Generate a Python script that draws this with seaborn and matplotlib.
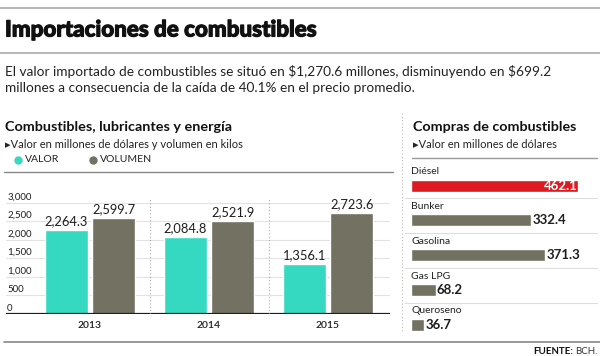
import pandas as pd
import matplotlib.pyplot as plt
import matplotlib.transforms as mtransforms
import matplotlib.patheffects as pe
from matplotlib.lines import Line2D
import seaborn as sns

# datos del grafico izquierdo
anios = ['2013', '2014', '2015']
valor = [2264.3, 2084.8, 1356.1]
volumen = [2599.7, 2521.9, 2723.6]
y_ticks = [0, 500, 1000, 1500, 2000, 2500, 3000]

# datos del grafico derecho
tipos = ['Diésel', 'Bunker', 'Gasolina', 'Gas LPG', 'Queroseno']
compras = [462.1, 332.4, 371.3, 68.2, 36.7]

TEAL = '#35d8c0'
OLIVE = '#737161'
RED = '#dc1a1f'
DARK = '#1e1e1e'

sns.set_theme(style='white')
plt.rcParams['font.family'] = ['Lato', 'DejaVu Sans']

W, H = 600, 356
fig = plt.figure(figsize=(6, 3.56), dpi=100)


def fx(x):
    return x / W


def fy(y):
    return 1 - y / H


def hline(y, x0, x1, color='#999999', lw=1.0):
    fig.add_artist(Line2D([fx(x0), fx(x1)], [fy(y), fy(y)], color=color, lw=lw,
                          transform=fig.transFigure))


# encabezado
hline(8, 0, 600, '#aaaaaa', 1.2)
fig.text(fx(5), fy(30), 'Importaciones de combustibles', fontsize=16.1,
         fontweight='black', color='#111111', va='center', ha='left',
         path_effects=[pe.withStroke(linewidth=0.8, foreground='#111111')])
hline(53, 0, 600, '#aaaaaa', 1.2)
fig.text(fx(5), fy(72), r'El valor importado de combustibles se situó en \$1,270.6 millones, '
         r'disminuyendo en \$699.2', fontsize=9.85, color='#222222', va='center')
fig.text(fx(5), fy(88), 'millones a consecuencia de la caída de 40.1% en el precio promedio.',
         fontsize=9.85, color='#222222', va='center')

# panel izquierdo: textos
fig.text(fx(5), fy(127), 'Combustibles, lubricantes y energía', fontsize=10.4,
         fontweight='bold', color='#111111', va='center')
fig.text(fx(5), fy(144), '▸Valor en millones de dólares y volumen en kilos', fontsize=8,
         color='#222222', va='center')
for x, col, lab in [(18, TEAL, 'VALOR'), (93, OLIVE, 'VOLUMEN')]:
    fig.add_artist(Line2D([fx(x)], [fy(160)], marker='o', markersize=5, color=col,
                          lw=0, transform=fig.transFigure))
    fig.text(fx(x + 7), fy(160), lab, fontsize=7.5, color='#222222', va='center')
hline(172, 4, 393, '#888888', 1.0)

# grafico de barras agrupadas
df = pd.DataFrame({
    'anio': anios * 2,
    'serie': ['Valor'] * 3 + ['Volumen'] * 3,
    'monto': valor + volumen,
})
ax = fig.add_axes([fx(6), fy(314), (390 - 6) / W, (314 - 195) / H])
sns.barplot(data=df, x='anio', y='monto', hue='serie', palette=[TEAL, OLIVE],
            width=0.8, gap=0.1, legend=False, ax=ax, saturation=1)
ax.set_xlim(-0.706, 2.521)
ax.set_ylim(0, 3216)
ax.set_yticks(y_ticks)
ax.set_yticklabels([])
ax.grid(axis='y', color='#e2e2e2', lw=0.8)
ax.set_axisbelow(True)
ax.axhline(0, color=DARK, lw=1.6)
for s in ax.spines.values():
    s.set_visible(False)
ax.set_xlabel('')
ax.set_ylabel('')
ax.tick_params(axis='x', length=0, pad=5, labelsize=7.5, labelcolor=DARK)
ax.tick_params(axis='y', length=0)
for lab in ax.get_xticklabels():
    lab.set_fontweight('semibold')
trans = mtransforms.blended_transform_factory(ax.transAxes, ax.transData)
for t in y_ticks:
    ax.text(0.003, t + 40, f'{t:,}', transform=trans, fontsize=7, color=DARK,
            va='bottom', ha='left')
for xs in [0.5, 1.5]:
    ax.plot([xs, xs], [0, 3100], color='#aaaaaa', lw=0.8, ls=(0, (1, 2)))
for cont in ax.containers:
    ax.bar_label(cont, labels=[f'{b.get_height():,.1f}' for b in cont], padding=2,
                 fontsize=9.3, color=DARK)

# panel derecho
fig.add_artist(Line2D([fx(402), fx(402)], [fy(113), fy(331)], color='#bbbbbb', lw=0.8,
                      ls=(0, (1, 2)), transform=fig.transFigure))
fig.text(fx(413), fy(127), 'Compras de combustibles', fontsize=10.3,
         fontweight='bold', color='#111111', va='center')
fig.text(fx(413), fy(144), '▸Valor en millones de dólares', fontsize=8,
         color='#222222', va='center')
hline(158, 412, 597, '#999999', 1.0)

df2 = pd.DataFrame({'tipo': tipos, 'monto': compras})
ax2 = fig.add_axes([fx(411), fy(336), (597 - 411) / W, (336 - 160) / H])
sns.barplot(data=df2, y='tipo', x='monto', hue='tipo',
            palette=[RED] + [OLIVE] * (len(tipos) - 1), width=0.345, legend=False,
            ax=ax2, saturation=1)
ax2.set_xlim(0, 515)
ax2.set_ylim(4.33, -0.734)
ax2.axis('off')
for i, (t, v) in enumerate(zip(tipos, compras)):
    ax2.text(1, i - 0.39, t, fontsize=7.5, color='#222222', va='center', ha='left')
    if i == 0:
        ax2.text(v - 2, i, f'{v:.1f}', fontsize=9.5, fontweight='bold', color='white',
                 va='center', ha='right')
    else:
        ax2.text(v + 3, i, f'{v:.1f}', fontsize=9.5, fontweight='bold', color=DARK,
                 va='center', ha='left')
for i in range(len(tipos) - 1):
    ax2.axhline(i + 0.37, color='#dddddd', lw=0.8, xmin=-0.03, clip_on=False)

# pie
hline(342, 4, 600, '#888888', 1.2)
fuente = fig.text(fx(597), fy(351), 'BCH.', fontsize=7, color='#333333',
                  ha='right', va='center')
renderer = fig.canvas.get_renderer()
ancho = fuente.get_window_extent(renderer).width
fig.text(fx(597 - ancho - 2), fy(351), 'FUENTE:', fontsize=7, fontweight='bold',
         color='#111111', ha='right', va='center')

fig.savefig('out.png', dpi=100)
